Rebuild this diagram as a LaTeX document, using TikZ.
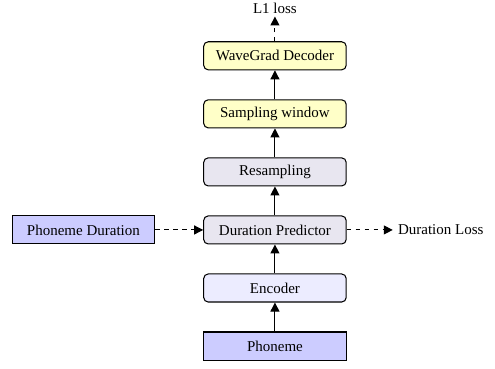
\documentclass[tikz,border=0pt]{standalone}
\usepackage{fontspec}
\setmainfont{Liberation Serif}
\usepackage{tikz}
\usetikzlibrary{shapes,arrows,arrows.meta}
\usetikzlibrary{positioning}
\usetikzlibrary{calc}

\definecolor{decfill}{RGB}{255,255,200}
\definecolor{midfill}{RGB}{232,230,240}
\definecolor{encfill}{RGB}{236,236,255}
\definecolor{infill}{RGB}{204,204,255}

\begin{document}
\begin{tikzpicture}
 \useasboundingbox (-183.3pt,-15.3pt) rectangle (146.7pt,230.7pt);
 \tikzstyle{blk} = [draw, line width=0.7pt, minimum width=95pt, minimum height=18.7pt, inner sep=2pt, font=\fontsize{10}{12}\selectfont, node distance=19.3pt and 32pt];
 \tikzstyle{rblk} = [blk, rounded corners=3pt];
 \node (phoneme) [blk, fill=infill] at (0,0) {Phoneme};
 \node (encoder) [rblk, fill=encfill, above=of phoneme] {Encoder};
 \node (durpred) [rblk, fill=midfill, above=of encoder] {Duration Predictor};
 \node (resamp) [rblk, fill=midfill, above=of durpred] {Resampling};
 \node (window) [rblk, fill=decfill, above=of resamp] {Sampling window};
 \node (decoder) [rblk, fill=decfill, above=of window] {WaveGrad Decoder};
 \node (phonedur) [blk, fill=infill, left=of durpred] {Phoneme Duration};
 \node (durloss) [right=30.7pt of durpred, font=\fontsize{10}{12}\selectfont] {Duration Loss};
 \node (l1loss) [above=16.5pt of decoder, inner sep=2pt, font=\fontsize{10}{12}\selectfont] {L1 loss};

 \tikzstyle{C} = [color=black, line width=0.7pt, -{Triangle[length=6pt,width=6pt]}]

 \draw [C] (phoneme) -- (encoder);
 \draw [C] (encoder) -- (durpred);
 \draw [C] (durpred) -- (resamp);
 \draw [C] (resamp) -- (window);
 \draw [C] (window) -- (decoder);
 \draw [C, dashed] (decoder) -- (l1loss);
 \draw [C, dashed] (phonedur) -- (durpred);
 \draw [C, dashed] (durpred) -- (durloss);
\end{tikzpicture}
\end{document}
